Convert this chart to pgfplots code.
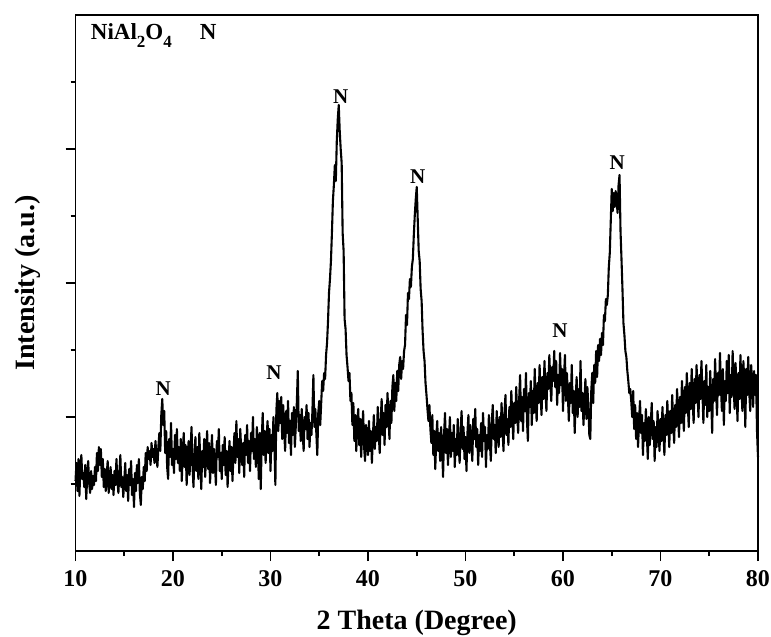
\documentclass[border=0pt]{standalone}
\usepackage{fontspec}
\setmainfont{Liberation Serif}
\usepackage{pgfplots}
\pgfplotsset{compat=1.18}
\begin{document}
\begin{tikzpicture}
\useasboundingbox (-37.75pt,-43pt) rectangle (347.75pt,275.5pt);
\begin{axis}[
  at={(0,0)}, anchor=south west,
  scale only axis, width=341.25pt, height=268pt,
  xmin=10, xmax=80, ymin=0, ymax=536,
  xtick={10,20,...,80}, minor xtick={15,25,...,75},
  ytick={134,268,402}, minor ytick={67,201,335,469},
  yticklabels={},
  xtick pos=bottom, ytick pos=left,
  tick align=outside,
  major tick length=5pt, minor tick length=2.5pt,
  axis line style={line width=0.8pt},
  every tick/.style={black, line width=0.8pt},
  /pgf/number format/assume math mode=true,
  xticklabel style={font=\bfseries\fontsize{12}{13}\selectfont, yshift=-1pt},
  clip=false,
]
\addplot[black, line width=1.05pt, line join=round] coordinates {
(10.0,70)(10.1,88)(10.2,60)(10.3,92)(10.4,55)(10.5,84)(10.6,96)(10.7,72)(10.8,78)(10.9,64)
(11.0,86)(11.1,52)(11.2,74)(11.3,90)(11.4,68)(11.5,58)(11.6,80)(11.7,62)(11.8,75)(11.9,66)
(12.0,84)(12.1,70)(12.2,98)(12.3,80)(12.4,104)(12.5,86)(12.6,102)(12.7,74)(12.8,92)(12.9,64)
(13.0,82)(13.1,60)(13.2,76)(13.3,90)(13.4,58)(13.5,72)(13.6,84)(13.7,62)(13.8,76)(13.9,56)
(14.0,80)(14.1,66)(14.2,92)(14.3,70)(14.4,58)(14.5,78)(14.6,96)(14.7,64)(14.8,74)(14.9,54)
(15.0,70)(15.1,88)(15.2,60)(15.3,76)(15.4,50)(15.5,82)(15.6,66)(15.7,90)(15.8,56)(15.9,72)
(16.0,44)(16.1,78)(16.2,60)(16.3,86)(16.4,68)(16.5,92)(16.6,58)(16.7,46)(16.8,74)(16.9,62)
(17.0,84)(17.1,70)(17.2,98)(17.3,80)(17.4,104)(17.5,92)(17.6,100)(17.7,86)(17.8,108)(17.9,94)
(18.0,102)(18.1,88)(18.2,110)(18.3,96)(18.4,84)(18.5,104)(18.6,118)(18.7,100)(18.8,136)(18.9,152)
(19.0,126)(19.1,140)(19.2,98)(19.3,120)(19.4,84)(19.5,72)(19.6,112)(19.7,94)(19.8,128)(19.9,86)
(20.0,102)(20.1,78)(20.2,116)(20.3,92)(20.4,122)(20.5,88)(20.6,104)(20.7,80)(20.8,112)(20.9,70)
(21.0,98)(21.1,118)(21.2,84)(21.3,106)(21.4,66)(21.5,94)(21.6,110)(21.7,76)(21.8,100)(21.9,124)
(22.0,86)(22.1,64)(22.2,96)(22.3,114)(22.4,80)(22.5,104)(22.6,72)(22.7,118)(22.8,90)(22.9,62)
(23.0,100)(23.1,84)(23.2,112)(23.3,74)(23.4,96)(23.5,120)(23.6,82)(23.7,108)(23.8,68)(23.9,92)
(24.0,116)(24.1,78)(24.2,102)(24.3,88)(24.4,66)(24.5,110)(24.6,94)(24.7,122)(24.8,80)(24.9,98)
(25.0,72)(25.1,106)(25.2,86)(25.3,114)(25.4,76)(25.5,100)(25.6,64)(25.7,92)(25.8,110)(25.9,80)
(26.0,104)(26.1,70)(26.2,96)(26.3,118)(26.4,88)(26.5,130)(26.6,94)(26.7,112)(26.8,78)(26.9,122)
(27.0,100)(27.1,86)(27.2,108)(27.3,74)(27.4,116)(27.5,96)(27.6,126)(27.7,88)(27.8,110)(27.9,80)
(28.0,118)(28.1,100)(28.2,134)(28.3,92)(28.4,112)(28.5,84)(28.6,124)(28.7,104)(28.8,72)(28.9,118)
(29.0,62)(29.1,110)(29.2,138)(29.3,96)(29.4,120)(29.5,88)(29.6,114)(29.7,130)(29.8,98)(29.9,122)
(30.0,80)(30.1,116)(30.2,100)(30.3,134)(30.4,108)(30.5,66)(30.6,140)(30.7,158)(30.8,120)(30.9,150)
(31.0,128)(31.1,154)(31.2,112)(31.3,146)(31.4,122)(31.5,100)(31.6,140)(31.7,118)(31.8,150)(31.9,108)
(32.0,130)(32.1,96)(32.2,138)(32.3,116)(32.4,144)(32.5,104)(32.6,126)(32.7,148)(32.8,180)(32.9,120)
(33.0,136)(33.1,110)(33.2,142)(33.3,118)(33.4,100)(33.5,134)(33.6,122)(33.7,146)(33.8,112)(33.9,138)
(34.0,104)(34.1,128)(34.2,116)(34.3,140)(34.4,176)(34.5,124)(34.6,142)(34.7,118)(34.8,96)(34.9,138)
(35.0,150)(35.1,126)(35.2,148)(35.3,170)(35.4,160)(35.5,178)(35.6,172)(35.7,196)(35.8,208)(35.9,230)
(36.0,258)(36.1,272)(36.2,290)(36.3,318)(36.4,350)(36.5,366)(36.6,386)(36.7,370)(36.8,410)(36.9,432)
(37.0,446)(37.1,420)(37.2,402)(37.3,388)(37.4,318)(37.5,300)(37.6,232)(37.7,222)(37.8,196)(37.9,184)
(38.0,170)(38.1,178)(38.2,150)(38.3,158)(38.4,126)(38.5,148)(38.6,110)(38.7,136)(38.8,100)(38.9,128)
(39.0,142)(39.1,106)(39.2,132)(39.3,94)(39.4,118)(39.5,140)(39.6,104)(39.7,90)(39.8,126)(39.9,112)
(40.0,96)(40.1,130)(40.2,100)(40.3,120)(40.4,88)(40.5,114)(40.6,136)(40.7,102)(40.8,124)(40.9,110)
(41.0,144)(41.1,118)(41.2,98)(41.3,130)(41.4,152)(41.5,116)(41.6,138)(41.7,106)(41.8,146)(41.9,124)
(42.0,158)(42.1,134)(42.2,112)(42.3,150)(42.4,128)(42.5,164)(42.6,176)(42.7,140)(42.8,168)(42.9,150)
(43.0,180)(43.1,160)(43.2,186)(43.3,194)(43.4,172)(43.5,190)(43.6,182)(43.7,200)(43.8,206)(43.9,236)
(44.0,226)(44.1,258)(44.2,252)(44.3,272)(44.4,264)(44.5,284)(44.6,292)(44.7,316)(44.8,336)(44.9,352)
(45.0,364)(45.1,332)(45.2,300)(45.3,290)(45.4,262)(45.5,250)(45.6,220)(45.7,200)(45.8,190)(45.9,168)
(46.0,156)(46.1,142)(46.2,130)(46.3,146)(46.4,122)(46.5,108)(46.6,136)(46.7,96)(46.8,120)(46.9,82)
(47.0,112)(47.1,130)(47.2,100)(47.3,118)(47.4,90)(47.5,124)(47.6,104)(47.7,74)(47.8,116)(47.9,138)
(48.0,98)(48.1,122)(48.2,86)(48.3,110)(48.4,134)(48.5,94)(48.6,118)(48.7,100)(48.8,126)(48.9,84)
(49.0,112)(49.1,96)(49.2,132)(49.3,106)(49.4,88)(49.5,120)(49.6,140)(49.7,102)(49.8,124)(49.9,92)
(50.0,114)(50.1,80)(50.2,118)(50.3,136)(50.4,98)(50.5,126)(50.6,108)(50.7,90)(50.8,132)(50.9,112)
(51.0,142)(51.1,104)(51.2,122)(51.3,86)(51.4,116)(51.5,100)(51.6,128)(51.7,94)(51.8,138)(51.9,110)
(52.0,124)(52.1,84)(52.2,116)(52.3,102)(52.4,136)(52.5,108)(52.6,90)(52.7,130)(52.8,146)(52.9,112)
(53.0,126)(53.1,98)(53.2,140)(53.3,118)(53.4,104)(53.5,134)(53.6,114)(53.7,148)(53.8,120)(53.9,100)
(54.0,138)(54.1,156)(54.2,116)(54.3,132)(54.4,106)(54.5,144)(54.6,124)(54.7,160)(54.8,134)(54.9,112)
(55.0,148)(55.1,128)(55.2,164)(55.3,138)(55.4,118)(55.5,150)(55.6,176)(55.7,130)(55.8,154)(55.9,120)
(56.0,162)(56.1,140)(56.2,178)(56.3,132)(56.4,110)(56.5,158)(56.6,144)(56.7,170)(56.8,126)(56.9,160)
(57.0,138)(57.1,182)(57.2,150)(57.3,130)(57.4,168)(57.5,148)(57.6,186)(57.7,156)(57.8,136)(57.9,174)
(58.0,152)(58.1,190)(58.2,160)(58.3,140)(58.4,178)(58.5,162)(58.6,196)(58.7,168)(58.8,150)(58.9,184)
(59.0,170)(59.1,200)(59.2,164)(59.3,190)(59.4,146)(59.5,176)(59.6,158)(59.7,198)(59.8,166)(59.9,182)
(60.0,140)(60.1,172)(60.2,196)(60.3,150)(60.4,178)(60.5,156)(60.6,130)(60.7,168)(60.8,148)(60.9,186)
(61.0,138)(61.1,160)(61.2,118)(61.3,152)(61.4,174)(61.5,134)(61.6,162)(61.7,144)(61.8,190)(61.9,140)
(62.0,158)(62.1,126)(62.2,150)(62.3,172)(62.4,132)(62.5,164)(62.6,146)(62.7,116)(62.8,112)(62.9,160)
(63.0,178)(63.1,148)(63.2,186)(63.3,168)(63.4,200)(63.5,174)(63.6,206)(63.7,190)(63.8,212)(63.9,196)
(64.0,218)(64.1,206)(64.2,236)(64.3,230)(64.4,252)(64.5,246)(64.6,256)(64.7,284)(64.8,298)(64.9,330)
(65.0,362)(65.1,340)(65.2,358)(65.3,344)(65.4,360)(65.5,350)(65.6,338)(65.7,366)(65.8,376)(65.9,320)
(66.0,292)(66.1,262)(66.2,228)(66.3,216)(66.4,200)(66.5,194)(66.6,180)(66.7,170)(66.8,158)(66.9,162)
(67.0,150)(67.1,134)(67.2,160)(67.3,122)(67.4,146)(67.5,112)(67.6,138)(67.7,104)(67.8,130)(67.9,150)
(68.0,118)(68.1,136)(68.2,96)(68.3,128)(68.4,110)(68.5,142)(68.6,116)(68.7,92)(68.8,134)(68.9,106)
(69.0,126)(69.1,148)(69.2,112)(69.3,130)(69.4,90)(69.5,124)(69.6,104)(69.7,140)(69.8,118)(69.9,100)
(70.0,132)(70.1,110)(70.2,144)(70.3,120)(70.4,96)(70.5,136)(70.6,116)(70.7,150)(70.8,126)(70.9,104)
(71.0,140)(71.1,118)(71.2,156)(71.3,130)(71.4,108)(71.5,146)(71.6,124)(71.7,162)(71.8,136)(71.9,114)
(72.0,154)(72.1,128)(72.2,170)(72.3,140)(72.4,120)(72.5,164)(72.6,138)(72.7,178)(72.8,146)(72.9,124)
(73.0,168)(73.1,142)(73.2,182)(73.3,150)(73.4,128)(73.5,172)(73.6,148)(73.7,186)(73.8,156)(73.9,134)
(74.0,176)(74.1,152)(74.2,190)(74.3,160)(74.4,128)(74.5,170)(74.6,146)(74.7,186)(74.8,134)(74.9,164)
(75.0,140)(75.1,180)(75.2,154)(75.3,118)(75.4,172)(75.5,150)(75.6,192)(75.7,160)(75.8,136)(75.9,178)
(76.0,156)(76.1,198)(76.2,164)(76.3,140)(76.4,182)(76.5,126)(76.6,170)(76.7,150)(76.8,190)(76.9,158)
(77.0,196)(77.1,138)(77.2,176)(77.3,154)(77.4,200)(77.5,166)(77.6,142)(77.7,188)(77.8,160)(77.9,130)
(78.0,178)(78.1,152)(78.2,196)(78.3,164)(78.4,140)(78.5,190)(78.6,170)(78.7,124)(78.8,182)(78.9,156)
(79.0,194)(79.1,160)(79.2,140)(79.3,186)(79.4,168)(79.5,144)(79.6,180)(79.7,156)(79.8,176)(79.9,120)
(80.0,94)
};
\node[font=\bfseries\fontsize{10.5}{11}\selectfont] at (axis cs:19.0,162) {N};
\node[font=\bfseries\fontsize{10.5}{11}\selectfont] at (axis cs:30.35,178) {N};
\node[font=\bfseries\fontsize{10.5}{11}\selectfont] at (axis cs:37.2,454) {N};
\node[font=\bfseries\fontsize{10.5}{11}\selectfont] at (axis cs:45.1,374) {N};
\node[font=\bfseries\fontsize{10.5}{11}\selectfont] at (axis cs:59.7,220) {N};
\node[font=\bfseries\fontsize{10.5}{11}\selectfont] at (axis cs:65.55,388) {N};
\node[font=\bfseries\fontsize{11.5}{12}\selectfont, anchor=base west, inner sep=0pt] at ([xshift=7.5pt,yshift=-12.5pt]rel axis cs:0,1) {NiAl\raisebox{-0.75ex}{\fontsize{8.5}{9}\selectfont 2}O\raisebox{-0.75ex}{\fontsize{8.5}{9}\selectfont 4}};
\node[font=\bfseries\fontsize{11.5}{12}\selectfont, anchor=base, inner sep=0pt] at ([yshift=-12.5pt]axis cs:23.6,536) {N};
\node[font=\bfseries\fontsize{14}{16}\selectfont] at ([yshift=-36pt]rel axis cs:0.5,0) {2 Theta (Degree)};
\node[font=\bfseries\fontsize{14}{16}\selectfont, rotate=90] at ([xshift=-24pt]rel axis cs:0,0.5) {Intensity (a.u.)};
\end{axis}
\end{tikzpicture}
\end{document}
